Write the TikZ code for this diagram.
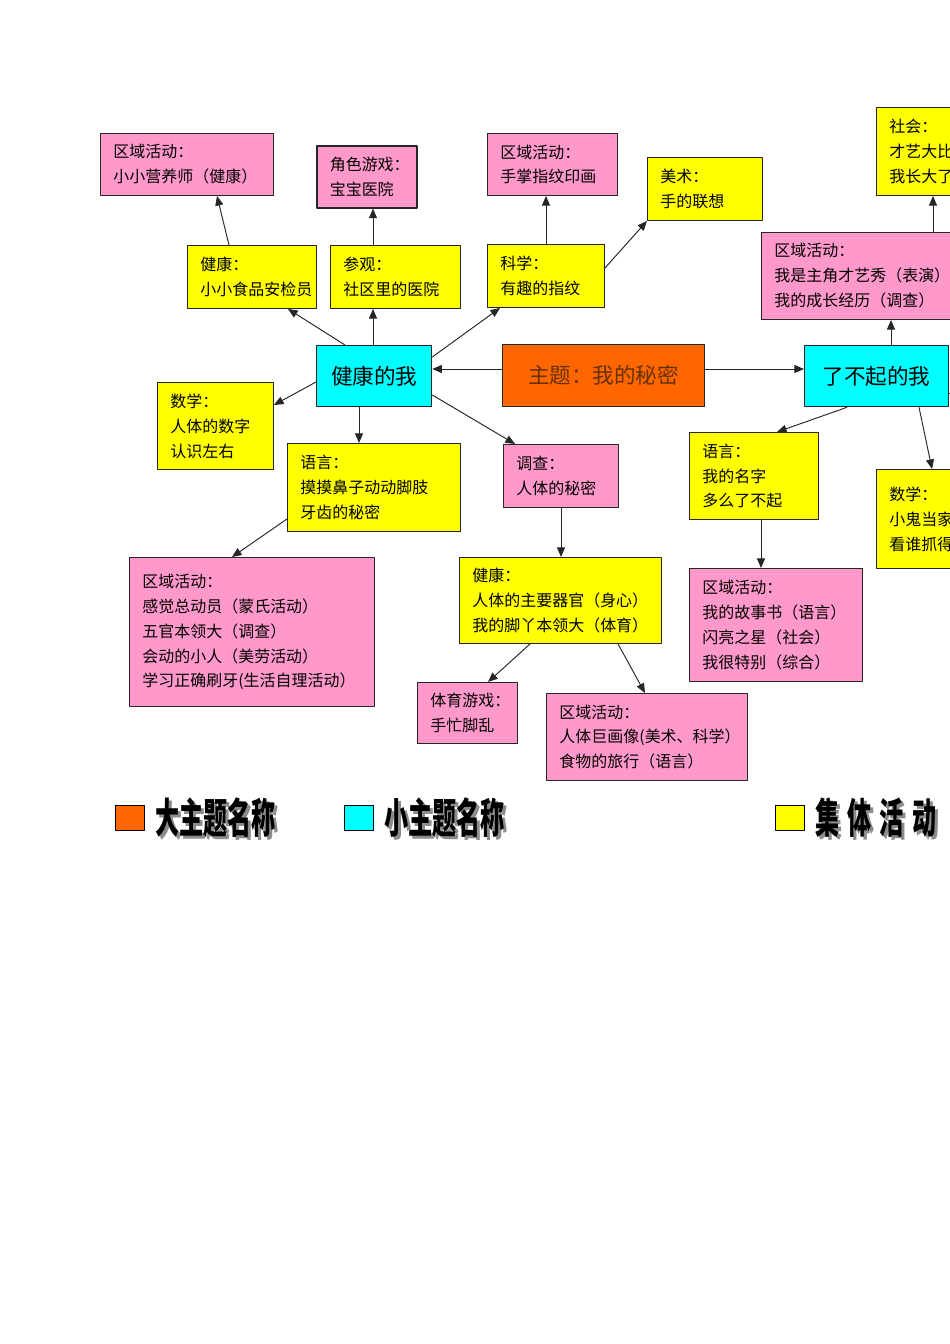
\documentclass[tikz,border=0pt]{standalone}
\usepackage{fontspec}
\setmainfont{Noto Sans CJK SC}
\usetikzlibrary{arrows.meta}
\newlength\px \setlength\px{0.022cm}
\definecolor{rosa}{RGB}{255,153,204}
\definecolor{gelb}{RGB}{255,255,0}
\definecolor{tuerkis}{RGB}{0,255,255}
\definecolor{orang}{RGB}{255,102,0}
\definecolor{braun}{RGB}{100,50,0}
\tikzset{
  kasten/.style={draw=black!85,line width=.6pt,anchor=north west,inner xsep=13*\px,inner ysep=0pt,
    align=left,font=\fontsize{10}{15.6}\selectfont},
  pk/.style={kasten,fill=rosa},
  gk/.style={kasten,fill=gelb},
  thema/.style={draw=black!85,line width=.8pt,anchor=north west,inner sep=0pt,
    font=\fontsize{13.5}{16}\selectfont},
  pfeil/.style={draw=black!85,line width=.6pt,-{Triangle[length=6pt,width=5pt]}},
  legende/.style={font=\fontsize{26}{28}\bfseries}
}
\begin{document}
\begin{tikzpicture}[x=0.022cm,y=-0.022cm,line join=round]
\useasboundingbox (0,0) rectangle (950,1344);
\clip (0,0) rectangle (950,1344);
% obere Reihe
\node[pk,text width=147*\px,minimum height=62*\px] (zyYingyang) at (100,133) {区域活动：\\小小营养师（健康）};
\node[pk,line width=1pt,text width=74*\px,minimum height=62*\px] (jsYiyuan) at (316,145) {角色游戏：\\宝宝医院};
\node[pk,text width=104*\px,minimum height=62*\px] (zyZhiwen) at (487,133) {区域活动：\\手掌指纹印画};
\node[gk,text width=89*\px,minimum height=63*\px] (msLianxiang) at (647,157) {美术：\\手的联想};
\node[gk,text width=124*\px,minimum height=88*\px] (shDabi) at (876,107) {社会：\\才艺大比\\我长大了};
\node[gk,text width=103*\px,minimum height=63*\px] (jkAnjian) at (187,245) {健康：\\小小食品安检员};
\node[gk,text width=104*\px,minimum height=63*\px] (cgYiyuan) at (330,245) {参观：\\社区里的医院};
\node[gk,text width=91*\px,minimum height=63*\px] (kxZhiwen) at (487,244) {科学：\\有趣的指纹};
\node[pk,text width=214*\px,minimum height=87*\px] (zyCaiyi) at (761,232) {区域活动：\\我是主角才艺秀（表演）\\我的成长经历（调查）};
% Themen
\node[thema,fill=tuerkis,minimum width=115*\px,minimum height=61*\px] (jiankang) at (316,345) {健康的我};
\node[thema,fill=orang,text=braun,minimum width=202*\px,minimum height=62*\px] (zhuti) at (502,344) {主题：我的秘密};
\node[thema,fill=tuerkis,minimum width=144*\px,minimum height=61*\px] (liaobuqi) at (804,345) {了不起的我};
% untere Reihe
\node[gk,text width=90*\px,minimum height=87*\px] (sxShuzi) at (157,382) {数学：\\人体的数字\\认识左右};
\node[gk,text width=147*\px,minimum height=88*\px] (yyBizi) at (287,443) {语言：\\摸摸鼻子动动脚肢\\牙齿的秘密};
\node[pk,text width=219*\px,minimum height=149*\px] (zyGanjue) at (129,557) {区域活动：\\感觉总动员（蒙氏活动）\\五官本领大（调查）\\会动的小人（美劳活动）\\学习正确刷牙(生活自理活动）};
\node[pk,text width=89*\px,minimum height=63*\px] (dcMimi) at (503,444) {调查：\\人体的秘密};
\node[gk,text width=176*\px,minimum height=86*\px] (jkQiguan) at (459,557) {健康：\\人体的主要器官（身心）\\我的脚丫本领大（体育）};
\node[pk,text width=74*\px,minimum height=61*\px] (tyShoumang) at (417,682) {体育游戏：\\手忙脚乱};
\node[pk,text width=175*\px,minimum height=87*\px] (zyJuhua) at (546,693) {区域活动：\\人体巨画像(美术、科学）\\食物的旅行（语言）};
\node[gk,text width=103*\px,minimum height=87*\px] (yyMingzi) at (689,432) {语言：\\我的名字\\多么了不起};
\node[pk,text width=147*\px,minimum height=113*\px] (zyGushi) at (689,568) {区域活动：\\我的故事书（语言）\\闪亮之星（社会）\\我很特别（综合）};
\node[gk,text width=124*\px,minimum height=99*\px] (sxDangjia) at (876,469) {数学：\\小鬼当家\\看谁抓得};
\coordinate (rechts) at (990,393);
% Pfeile
\draw[pfeil] ([xshift=42*\px]jkAnjian.north west) -- ([xshift=117*\px]zyYingyang.south west);
\draw[pfeil] ([xshift=43*\px]cgYiyuan.north west) -- ([xshift=57*\px]jsYiyuan.south west);
\draw[pfeil] ([xshift=29*\px]jiankang.north west) -- ([xshift=101*\px]jkAnjian.south west);
\draw[pfeil] ([xshift=57*\px]jiankang.north west) -- ([xshift=43*\px]cgYiyuan.south west);
\draw[pfeil] ([yshift=-12*\px]jiankang.north east) -- ([xshift=13*\px]kxZhiwen.south west);
\draw[pfeil] ([xshift=59*\px]kxZhiwen.north west) -- ([xshift=59*\px]zyZhiwen.south west);
\draw[pfeil] ([yshift=-24*\px]kxZhiwen.north east) -- (msLianxiang.south west);
\draw[pfeil] ([yshift=-25*\px]zhuti.north west) -- ([yshift=-24*\px]jiankang.north east);
\draw[pfeil] ([yshift=-25*\px]zhuti.north east) -- ([yshift=-24*\px]liaobuqi.north west);
\draw[pfeil] ([xshift=87*\px]liaobuqi.north west) -- ([xshift=130*\px]zyCaiyi.south west);
\draw[pfeil] ([xshift=172*\px]zyCaiyi.north west) -- ([xshift=57*\px]shDabi.south west);
\draw[pfeil] ([yshift=-37*\px]jiankang.north west) -- ([yshift=-23*\px]sxShuzi.north east);
\draw[pfeil] ([xshift=43*\px]jiankang.south west) -- ([xshift=72*\px]yyBizi.north west);
\draw[pfeil] ([yshift=-50*\px]jiankang.north east) -- ([xshift=12*\px]dcMimi.north west);
\draw[pfeil] ([yshift=-76*\px]yyBizi.north west) -- ([xshift=103*\px]zyGanjue.north west);
\draw[pfeil] ([xshift=58*\px]dcMimi.south west) -- ([xshift=102*\px]jkQiguan.north west);
\draw[pfeil] ([xshift=71*\px]jkQiguan.south west) -- ([xshift=71*\px]tyShoumang.north west);
\draw[pfeil] ([xshift=159*\px]jkQiguan.south west) -- ([xshift=99*\px]zyJuhua.north west);
\draw[pfeil] ([xshift=43*\px]liaobuqi.south west) -- ([xshift=88*\px]yyMingzi.north west);
\draw[pfeil] ([xshift=115*\px]liaobuqi.south west) -- ([xshift=56*\px]sxDangjia.north west);
\draw[pfeil] ([xshift=72*\px]yyMingzi.south west) -- ([xshift=72*\px]zyGushi.north west);
\draw[draw=black!85,line width=.6pt] ([yshift=-48*\px]liaobuqi.north east) -- (rechts);
% Legende
\foreach \n/\f/\x/\t in {Da/orang/130/{大主题名称},Xiao/tuerkis/359/{小主题名称},Jiti/gelb/790/{集\kern14\px 体\kern14\px 活\kern14\px 动}}{
  \node[draw=black,line width=.7pt,fill=\f,minimum width=29*\px,minimum height=25*\px,inner sep=0pt] (lg\n) at (\x,818) {};
  \node[legende,text=black!45,anchor=west,inner sep=0pt] (lg\n S) at ([xshift=13*\px,yshift=-3*\px]lg\n.east) {\scalebox{.58}[1]{\t}};
  \node[legende,anchor=west,inner sep=0pt] (lg\n T) at ([xshift=10*\px]lg\n.east) {\scalebox{.58}[1]{\t}};
}
\end{tikzpicture}
\end{document}
